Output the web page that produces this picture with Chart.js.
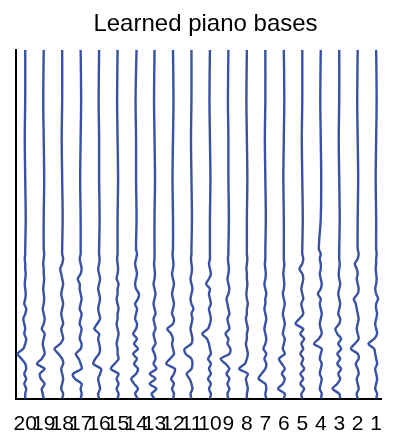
<!DOCTYPE html>
<html lang="en">
<head>
    <meta charset="utf-8">
    <script src="https://cdn.jsdelivr.net/npm/chart.js"></script>
    <style>
        body { margin: 0; background: #ffffff; }
        #bases { display: block; }
    </style>
</head>
<body>
    <canvas id="bases" width="395" height="433"></canvas>
    <script>
        // tick labels, left to right
        const tickLabels = ['20', '19', '18', '17', '16', '15', '14', '13', '12', '11',
                            '10', '9', '8', '7', '6', '5', '4', '3', '2', '1'];
        // sample times (bottom = 0)
        const sampleTimes = [0, 5, 10, 15, 20, 25, 30, 35, 40, 45, 50, 55, 60, 65, 70, 75, 80, 85, 90, 95,
                             100, 105, 110, 115, 120, 125, 130, 135, 140, 145, 150, 180, 220, 260, 300, 349];

        // amplitude of each learned basis at the sample times
        const base20 = [0, 0, 1, -1, 1, -1, 1, 0, -4, -8, -2, 0, 1, -1, 0, -1, -2, 0, 1, -1, 0, 0.5, 0, -0.5, 0, 0.5, 0, 0, -0.5, 0, 0, 0.5, 0, -0.5, 0, 0];
        const base19 = [0, -1, -2, 1, -3, -4, 1, -7, -2, 1, 0, -1, 0, 1, -2, 0, 1, 0, -1, 0, 0.5, 0, -0.5, 0, 0.5, 0, 0, -0.5, 0, 0.5, 0, 0, 0.5, 0, -0.5, 0];
        const base18 = [0, 1, -1, 0, 1, 0, -1, 1, 0, -4, -8, -2, 1, 0, -1, 1, 0, -1, 0, 1, 0, -1, 0, 1, 0, -1, -2, 0, 1, 0, 0, 0.5, 0, -0.5, 0, 0];
        const base17 = [0, 1, 0, 1, -6, -8, 1, 0, -2, -5, 0, 1, -1, 0, 1, -1, 0, 1, -1, 0, 1, 0, -1, -1, -3, 0, 1, 0, -1, 0, 0, 0, -0.5, 0, 0.5, 0];
        const base16 = [0, -1, 1, 0, -1, 1, 2, -6, -4, 0, 1, 0, -1, 0, -5, -2, 1, 0, -1, 0, 1, 0, -1, 0, 1, 0, -1, 0, 0.5, 0, 0, 0.5, 0, 0, -0.5, 0];
        const base15 = [0, 1, -1, 1, -1, 1, -7, -3, 1, 0, 0, -1, 0, 1, 0, -1, 0, 0, 1, 0, -1, 0, 0, 1, -1, 0, 0.5, 0, -0.5, 0, 0, 0, 0.5, 0, -0.5, 0];
        const base14 = [2, -1, 2, -2, -5, 0, 2, -2, 1, -3, 2, -2, 1, -3, 0, 1, -1, 0, 1, -1, 2, 3, 0, -1, 0, 1, 0, -1, 0, 1, 0, 0.5, 0, 0, -0.5, 0.5];
        const base13 = [0, -3, 2, -5, 1, -5, 2, -1, 1, 0, -2, 1, 0, -1, 1, 0, -1, 1, 0, -1, 0, 1, 0, -1, 0, 0.5, 0, -0.5, 0, 0, 0, 0, 0.5, 0, -0.5, 0];
        const base12 = [0, 1, -1, 1, -2, 1, 2, -7, -3, 1, 0, -1, 0, -2, -6, 0, 1, -1, 0, 1, 0, -1, 0, 1, 0, -1, 0, 0.5, 0, -0.5, 0, 0, -0.5, 0, 0.5, 0];
        const base11 = [0, -1, 1, 0, -2, -5, 0, 1, 0, -6, -7, 0, 1, 0, -1, 0, 1, 0, 2, 0, -1, 0, 1, 0, -1, 0, 0.5, 0, -0.5, 0, 0, 0.5, 0, -0.5, 0, 0];
        const base10 = [0, 1, -1, 1, -2, 1, -1, 1, -2, 1, 0, -1, -3, -8, -2, 0, 1, 0, -1, 1, 0, -1, 0, -4, -1, 1, 0, -1, 0, 0, 0, 0, 0.5, 0, -0.5, 0];
        const base9 = [0, -1, 1, -1, 1, -2, 1, -3, -8, 1, 2, -1, 0, -3, 1, 0, -1, 1, 0, -1, -2, 0, 1, 0, -1, 0, 0.5, 0, -0.5, 0, 0, 0.5, 0, 0, -0.5, 0];
        const base8 = [0, 0, 1, 0, -1, 1, -8, -2, 0, 1, 0, -1, 0, 0, 1, 0, -1, 0, 0, 1, 0, -0.5, 0, 0.5, 0, 0, -0.5, 0, 0.5, 0, 0, 0, 0.5, 0, -0.5, 0];
        const base7 = [1, 0, 1, 0, -7, -4, 0, 1, -1, 1, -2, 0, 1, 0, -1, 0, 1, 0, -1, 0, 0, 1, 0, -1, 0, 0.5, 0, -0.5, 0, 0, 0, 0.5, 0, -0.5, 0, 0];
        const base6 = [0, 1, -6, -1, 1, -2, 1, -2, -5, 1, -1, 0, 1, -1, 0, 1, 0, -1, 0, 1, 0, -1, 0, 0.5, 0, -0.5, 0, 0.5, 0, 0, 0, 0, -0.5, 0, 0.5, 0];
        const base5 = [0, -1, 2, -2, 1, -2, 2, -1, 1, -2, 1, -1, 2, -2, 1, -7, -3, 1, 0, -1, 1, 0, -1, 0, 1, 0, -3, 0, 1, 0, 0, 0.5, 0, -0.5, 0, 0];
        const base4 = [0, 1, -1, 0, 1, -1, 0, 1, -1, 0, 1, -7, -2, 1, 0, -1, 0, 1, 0, -1, 0, -3, 0, 1, 0, -1, 0, 0, -1, 0, -2, 0, 0.5, 0, -0.5, 0];
        const base3 = [1, 0, -7, -2, 1, -1, 2, -2, 1, -2, 2, -1, 2, -2, -4, 0, 1, -1, 0, 1, 0, -1, 0, 1, 0, -0.5, 0, 0.5, 0, 0, 0, 0.5, 0, -0.5, 0, 0];
        const base2 = [0, -1, 1, 0, -1, 1, 0, -2, 1, 0, -7, -3, 1, 0, -1, 0, 1, 0, -1, -2, -4, 0, 1, 0, -1, 0, -1, -3, 0, 1, 0, 0, 0.5, 0, -0.5, 0];
        const base1 = [0, 1, -1, 0, 1, 0, -1, 1, 0, -1, -2, -8, -2, 1, 0, -1, 0, 1, 0, 0, 2, 0, -1, 0, 0.5, 0, -0.5, 0, 0, 0.5, 0, 0, -0.5, 0, 0.5, 0];

        const bases = [base20, base19, base18, base17, base16, base15, base14, base13, base12, base11,
                       base10, base9, base8, base7, base6, base5, base4, base3, base2, base1];

        const lineColor = '#3a52a3';
        const ampScale = 1 / 19.15;  // amplitude units -> slot width
        const fontFamily = "'Liberation Sans', Arial, sans-serif";

        // each basis is drawn around its own slot on the x axis
        const datasets = bases.map((wave, i) => ({
            label: tickLabels[i],
            data: wave.map((v, j) => ({ x: i + v * ampScale, y: sampleTimes[j] })),
            showLine: true,
            borderColor: lineColor,
            borderWidth: 2.4,
            pointRadius: 0,
            tension: 0.3,
            fill: false
        }));

        new Chart(document.getElementById('bases').getContext('2d'), {
            type: 'scatter',
            data: { datasets: datasets },
            options: {
                responsive: false,
                animation: false,
                layout: { padding: { left: 16, right: 0, top: 0, bottom: -17 } },
                plugins: {
                    legend: { display: false },
                    tooltip: { enabled: false },
                    title: {
                        display: true,
                        text: 'Learned piano bases',
                        fullSize: true,
                        color: '#000000',
                        font: { family: fontFamily, size: 24, weight: 'normal' },
                        padding: { top: 10, bottom: 11 }
                    }
                },
                scales: {
                    x: {
                        type: 'linear',
                        min: -0.5,
                        max: 19.29,
                        grid: { display: false, drawTicks: false },
                        border: { display: true, color: '#000000', width: 2 },
                        afterBuildTicks: scale => {
                            scale.ticks = tickLabels.map((_, i) => ({ value: i }));
                        },
                        ticks: {
                            autoSkip: false,
                            maxRotation: 0,
                            padding: 13,
                            color: '#000000',
                            font: { family: fontFamily, size: 21 },
                            callback: value => tickLabels[value]
                        }
                    },
                    y: {
                        type: 'linear',
                        min: 0,
                        max: 349,
                        grid: { display: false, drawTicks: false },
                        border: { display: true, color: '#000000', width: 2 },
                        ticks: { display: false }
                    }
                }
            }
        });
    </script>
</body>
</html>
